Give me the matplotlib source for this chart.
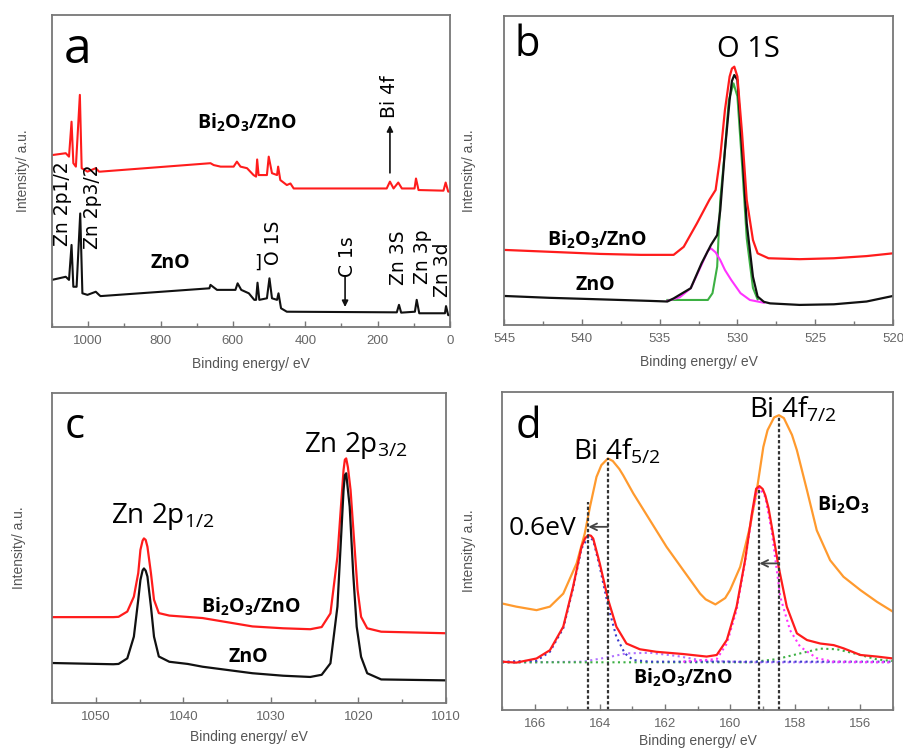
import matplotlib
matplotlib.use("Agg")
import matplotlib.pyplot as plt
from matplotlib.ticker import MultipleLocator

plt.rcParams["font.family"] = ["Liberation Sans", "DejaVu Sans"]

# ---- (a) survey spectra ----
a_red_e = [1100, 1062, 1053, 1046, 1041, 1034, 1023, 1018, 1002, 979, 970, 966, 662, 653, 634, 598,
           589, 579, 561, 543, 536, 533, 529, 506, 501, 492, 478, 475, 469, 451, 441, 432, 175, 166,
           156, 143, 133, 98, 94, 87, 18, 12, 5, 0]
a_red_i = [55.1, 55.7, 54.6, 65.8, 52.5, 51.4, 74.4, 50.9, 49.8, 50.9, 49.8, 49.8, 52.5, 51.9, 51.4, 51.4,
           53.0, 51.4, 50.9, 48.7, 48.2, 53.7, 48.7, 48.7, 54.6, 49.3, 48.7, 51.4, 47.1, 45.5, 46.0, 44.4,
           44.4, 46.6, 44.4, 46.3, 44.4, 44.4, 47.6, 43.9, 43.7, 46.3, 43.4, 43.4]
a_blk_e = [1100, 1062, 1053, 1046, 1041, 1032, 1022, 1016, 1002, 979, 970, 966, 665, 662, 644, 593,
           587, 577, 556, 541, 536, 532, 527, 506, 499, 492, 478, 474, 467, 451, 147, 141, 135, 97,
           92, 85, 14, 11, 5, 0]
a_blk_i = [15.1, 16.1, 15.1, 26.3, 12.9, 12.9, 36.4, 10.8, 10.3, 11.3, 10.3, 9.9, 12.4, 13.5, 11.9, 11.9,
           14.0, 11.9, 10.8, 8.7, 8.7, 14.2, 8.7, 9.2, 15.6, 9.2, 8.7, 10.8, 6.0, 4.9, 4.7, 7.1, 4.6, 4.9,
           8.7, 4.4, 4.4, 6.7, 3.8, 3.8]

# ---- (b) O 1s ----
b_red_e = [545, 542.1, 538.8, 536.2, 534.1, 533.45, 532.6, 531.8, 531.4, 531.1, 530.8, 530.5, 530.35,
           530.2, 530.0, 529.7, 529.4, 529.0, 528.7, 528.0, 526.0, 523.8, 521.7, 520]
b_red_i = [24.3, 23.7, 23.0, 22.7, 22.7, 25.3, 32.9, 40.5, 43.7, 54.5, 69.6, 80.4, 83.0,
           83.6, 80.4, 62.0, 40.5, 27.5, 23.2, 21.6, 21.3, 21.6, 22.3, 23.2]
b_blk_e = [545, 542.1, 538.8, 535.6, 534.5, 534.1, 533.0, 532.3, 531.7, 531.3, 531.1, 530.8, 530.5,
           530.35, 530.2, 530.0, 529.7, 529.4, 529.0, 528.7, 528.3, 527.9, 526.0, 523.8, 521.7, 520]
b_blk_i = [9.4, 8.8, 8.3, 7.8, 7.6, 8.6, 11.9, 20.0, 25.9, 29.1, 37.2, 56.6, 72.8,
           79.0, 80.9, 79.3, 56.6, 32.9, 15.6, 9.2, 7.5, 7.0, 6.5, 6.7, 7.6, 9.4]
b_grn_e = [534.5, 531.9, 531.6, 531.3, 531.1, 530.8, 530.55, 530.25, 530.0, 529.7, 529.4, 529.0, 528.7]
b_grn_i = [8.1, 8.1, 10.3, 18.9, 40.5, 56.6, 72.8, 78.2, 74.0, 52.0, 28.0, 12.0, 8.3]
b_mag_e = [534.5, 533.7, 533.0, 532.3, 531.9, 531.7, 531.4, 531.1, 530.8, 530.4, 529.8, 529.2, 528.3]
b_mag_i = [7.8, 9.0, 11.9, 19.5, 24.0, 24.8, 23.5, 21.0, 17.8, 14.6, 10.3, 8.1, 7.2]

# ---- (c) Zn 2p ----
c_red_e = [1055, 1051.5, 1048.0, 1047.4, 1046.4, 1045.65, 1045.15, 1044.9, 1044.65, 1044.5, 1044.3,
           1044.1, 1043.7, 1043.35, 1042.8, 1041.6, 1037.8, 1032.1, 1028.6, 1025.5, 1024.2, 1023.2,
           1022.4, 1022.0, 1021.7, 1021.55, 1021.4, 1021.2, 1020.9, 1020.5, 1020.1, 1019.7, 1019.0,
           1017.4, 1010]
c_red_i = [27.7, 27.7, 27.7, 27.8, 29.5, 34.3, 41.9, 49.4, 52.4, 53.1, 52.6,
           50.4, 41.9, 33.3, 29.0, 28.2, 27.4, 24.7, 24.1, 23.8, 24.5, 28.9,
           47.2, 63.3, 75.2, 78.5, 78.9, 76.0, 68.7, 52.6, 36.5, 27.8, 24.1,
           23.0, 22.5]
c_blk_e = [1055, 1051.5, 1048.0, 1047.4, 1046.4, 1045.65, 1045.15, 1044.9, 1044.65, 1044.5, 1044.3,
           1044.1, 1043.7, 1043.35, 1042.8, 1041.6, 1039.5, 1037.8, 1032.1, 1028.6, 1025.5, 1024.2,
           1023.2, 1022.4, 1022.0, 1021.7, 1021.55, 1021.4, 1021.0, 1020.6, 1020.2, 1019.7, 1019.0,
           1017.4, 1010]
c_blk_i = [12.9, 12.7, 12.5, 12.6, 14.4, 21.4, 33.3, 39.7, 42.8, 43.4, 42.7,
           40.8, 31.1, 21.4, 15.0, 13.3, 12.6, 11.7, 9.6, 8.8, 8.4, 9.1,
           12.8, 31.1, 52.6, 68.7, 73.5, 74.1, 63.3, 41.8, 24.6, 14.9, 9.6,
           7.6, 7.3]

# ---- (d) Bi 4f ----
d_org_e = [167, 166.56, 165.94, 165.53, 165.12, 164.71, 164.46, 164.30, 164.10, 163.95, 163.75, 163.6,
           163.4, 163.28, 162.97, 162.46, 161.95, 161.44, 160.92, 160.75, 160.45, 160.15, 160.00, 159.69,
           159.39, 159.18, 158.98, 158.85, 158.65, 158.5, 158.35, 158.1, 157.95, 157.64, 157.34, 156.93,
           156.52, 156.00, 155.49, 155.0]
d_org_i = [33.5, 32.5, 31.4, 32.5, 36.6, 46.1, 55.5, 63.9, 73.3, 77.0, 79.1, 78.3,
           75.8, 73.8, 68.1, 59.7, 51.3, 44.0, 36.6, 34.8, 33.2, 35.2, 37.7, 45.0,
           57.6, 69.1, 82.7, 88.0, 92.0, 92.7, 91.8, 86.5, 81.7, 69.1, 56.5, 47.1,
           41.9, 37.7, 34.0, 30.9]
d_red_e = [167, 166.56, 165.94, 165.53, 165.12, 164.82, 164.56, 164.45, 164.35, 164.27, 164.20, 164.00,
           163.74, 163.49, 163.18, 162.77, 162.26, 161.44, 160.72, 160.41, 160.10, 159.80, 159.54, 159.33,
           159.2, 159.1, 159.0, 158.92, 158.82, 158.72, 158.51, 158.26, 157.95, 157.64, 157.23, 156.82,
           156.52, 156.00, 155.49, 155.0]
d_red_i = [15.2, 14.9, 16.2, 18.8, 26.2, 38.7, 51.3, 54.0, 55.0, 54.8, 53.9, 46.1,
           34.6, 26.2, 20.9, 19.1, 18.3, 17.6, 16.8, 17.3, 22.0, 32.5, 47.1, 61.8,
           69.6, 70.4, 69.5, 67.5, 63.5, 57.6, 45.0, 32.5, 24.1, 22.0, 20.9, 20.4,
           19.4, 17.3, 16.8, 16.2]
d_blu_e = [167, 165.94, 165.53, 165.12, 164.82, 164.56, 164.35, 164.20, 164.00, 163.74, 163.49, 163.23,
           162.97, 162.46, 155.0]
d_blu_i = [15.2, 15.5, 18.3, 25.7, 38.2, 50.8, 54.5, 53.4, 45.0, 32.5, 23.0, 17.8, 15.7, 15.2, 15.2]
d_mag_e = [161.44, 160.41, 160.10, 159.80, 159.54, 159.33, 159.18, 159.1, 158.92, 158.72, 158.46,
           158.16, 157.85, 157.34, 156.82, 155.0]
d_mag_i = [15.2, 16.0, 20.9, 31.4, 46.6, 61.3, 68.6, 69.9, 67.0, 56.0, 35.6, 25.1, 19.9, 16.3, 15.2, 15.0]
d_vio_e = [167, 164.51, 163.79, 163.18, 162.46, 161.64, 160.82, 159.39, 155.0]
d_vio_i = [14.9, 15.2, 16.5, 17.8, 18.0, 17.0, 15.5, 15.0, 15.0]
d_grn_e = [167, 159.39, 158.57, 157.85, 157.23, 156.72, 156.11, 155.49, 155.0]
d_grn_i = [15.0, 15.0, 16.0, 17.8, 19.3, 19.1, 17.6, 15.9, 15.4]
# peak positions of Bi2O3/ZnO and Bi2O3 (0.6 eV shift)
d_shift_from = [163.75, 158.5]
d_shift_to = [164.35, 159.1]
d_line_top_to = [65.4, 69.6]
d_line_top_from = [79.1, 92.1]
d_arrow_y = [57.6, 46.1]

RED = "#ff1c1c"
BLK = "#111111"
GRAY = "#666666"
OPEN = ["Open Sans", "DejaVu Sans"]

fig = plt.figure(figsize=(9.04, 7.52), dpi=100)


def px_box(x0, y0, x1, y1):
    return [x0 / 904, 1 - y1 / 752, (x1 - x0) / 904, (y1 - y0) / 752]


def frame(ax, xlim, major, minor, ypad, xpad=7):
    ax.set_xlim(*xlim)
    ax.set_ylim(0, 100)
    ax.set_yticks([])
    ax.xaxis.set_major_locator(MultipleLocator(major))
    ax.xaxis.set_minor_locator(MultipleLocator(minor))
    ax.tick_params(axis="x", which="both", direction="in", color="#777777",
                   labelcolor=GRAY, labelsize=9.5, pad=6)
    ax.tick_params(axis="x", which="major", length=4, width=1)
    ax.tick_params(axis="x", which="minor", length=3, width=1)
    for s in ax.spines.values():
        s.set_color("#777777")
        s.set_linewidth(1.3)
    ax.set_xlabel("Binding energy/ eV", fontsize=10, color="#555555", labelpad=xpad)
    ax.set_ylabel("Intensity/ a.u.", fontsize=10, color="#555555", labelpad=ypad)


def bold(ax, x, y, s):
    ax.text(x, y, s, family=OPEN, fontweight="bold", fontsize=14, ha="center", va="center")


sub2 = r"$\mathregular{_2}$"
sub3 = r"$\mathregular{_3}$"
bi2o3 = "Bi" + sub2 + "O" + sub3

# (a)
ax = fig.add_axes(px_box(52, 15, 450, 327))
ax.plot(a_red_e, a_red_i, color=RED, lw=1.5)
ax.plot(a_blk_e, a_blk_i, color=BLK, lw=1.5)
frame(ax, (1100, 0), 200, 100, 16)
ax.text(1029, 88.8, "a", family=OPEN, fontsize=36, ha="center", va="center")
bold(ax, 560, 65.4, bi2o3 + "/ZnO")
bold(ax, 772, 20.5, "ZnO")
for x, y, s in [(1070, 39.4, "Zn 2p1/2"), (988, 38.5, "Zn 2p3/2"), (487, 26.9, "O 1S"),
                (282, 22.4, "C 1s"), (143, 22.1, "Zn 3S"), (77, 22.4, "Zn 3p"),
                (22, 18.3, "Zn 3d"), (166, 73.7, "Bi 4f")]:
    ax.text(x, y, s, rotation=90, fontsize=13.5, family=["DejaVu Sans"], ha="center", va="center")
ax.text(532, 20.5, "]", fontsize=13, family=["DejaVu Sans"], ha="center", va="center")
arrow = dict(arrowstyle="-|>", color=BLK, lw=1.2, mutation_scale=9, shrinkA=0, shrinkB=0)
ax.annotate("", xy=(290, 6.4), xytext=(290, 16.0), arrowprops=arrow)
ax.annotate("", xy=(166, 64.7), xytext=(166, 49.4), arrowprops=arrow)

# (b)
ax = fig.add_axes(px_box(504, 16, 893, 325))
ax.plot(b_grn_e, b_grn_i, color="#3cb043", lw=1.5)
ax.plot(b_mag_e, b_mag_i, color="#ff33ff", lw=1.5)
ax.plot(b_blk_e, b_blk_i, color=BLK, lw=1.6)
ax.plot(b_red_e, b_red_i, color=RED, lw=1.6)
frame(ax, (545, 520), 5, 2.5, 20)
ax.text(543.5, 90.6, "b", family=OPEN, fontsize=30, ha="center", va="center")
ax.text(529.3, 89.3, "O 1S", family=OPEN, fontsize=21, ha="center", va="center")
bold(ax, 539.0, 27.5, bi2o3 + "/ZnO")
bold(ax, 539.1, 12.9, "ZnO")

# (c)
ax = fig.add_axes(px_box(52, 393, 446, 703))
ax.plot(c_red_e, c_red_i, color=RED, lw=1.6)
ax.plot(c_blk_e, c_blk_i, color=BLK, lw=1.6)
frame(ax, (1055, 1010), 10, 5, 19, xpad=5)
ax.text(1052.4, 89.0, "c", family=OPEN, fontsize=30, ha="center", va="center")
ax.text(1042.3, 60.0, r"Zn 2p$\mathregular{_{1/2}}$", family=OPEN, fontsize=20, ha="center", va="center")
ax.text(1020.3, 83.2, r"Zn 2p$\mathregular{_{3/2}}$", family=OPEN, fontsize=20, ha="center", va="center")
bold(ax, 1032.3, 31.0, bi2o3 + "/ZnO")
bold(ax, 1032.6, 14.8, "ZnO")

# (d)
ax = fig.add_axes(px_box(502, 392, 893, 710))
ax.plot(d_org_e, d_org_i, color="#ff9a2e", lw=1.6)
ax.plot(d_vio_e, d_vio_i, color="#b070ff", lw=1.5, ls=":")
ax.plot(d_grn_e, d_grn_i, color="#3cb043", lw=1.5, ls=":")
ax.plot(d_blu_e, d_blu_i, color="#3b3bcc", lw=1.5, ls=":")
ax.plot(d_mag_e, d_mag_i, color="#ff33ff", lw=1.5, ls=":")
ax.plot(d_red_e, d_red_i, color=RED, lw=1.6)
for e, top in zip(d_shift_to + d_shift_from, d_line_top_to + d_line_top_from):
    ax.plot([e, e], [0, top], color="#333333", lw=1.6, ls=(0, (1.5, 1)))
for e0, e1, y in zip(d_shift_from, d_shift_to, d_arrow_y):
    ax.annotate("", xy=(e1, y), xytext=(e0, y),
                arrowprops=dict(arrowstyle="->", color="#444444", lw=1.3, mutation_scale=12,
                                shrinkA=0, shrinkB=0))
frame(ax, (167, 155), 2, 1, 19, xpad=3)
ax.text(166.2, 89.0, "d", family=OPEN, fontsize=30, ha="center", va="center")
ax.text(163.47, 81.1, r"Bi 4f$\mathregular{_{5/2}}$", family=OPEN, fontsize=20, ha="center", va="center")
ax.text(158.07, 94.3, r"Bi 4f$\mathregular{_{7/2}}$", family=OPEN, fontsize=20, ha="center", va="center")
ax.text(165.77, 57.2, "%.1feV" % (d_shift_to[0] - d_shift_from[0]), family=OPEN, fontsize=19,
        ha="center", va="center")
bold(ax, 156.53, 64.5, bi2o3)
bold(ax, 161.44, 10.1, bi2o3 + "/ZnO")

fig.savefig("out.png", dpi=100)
